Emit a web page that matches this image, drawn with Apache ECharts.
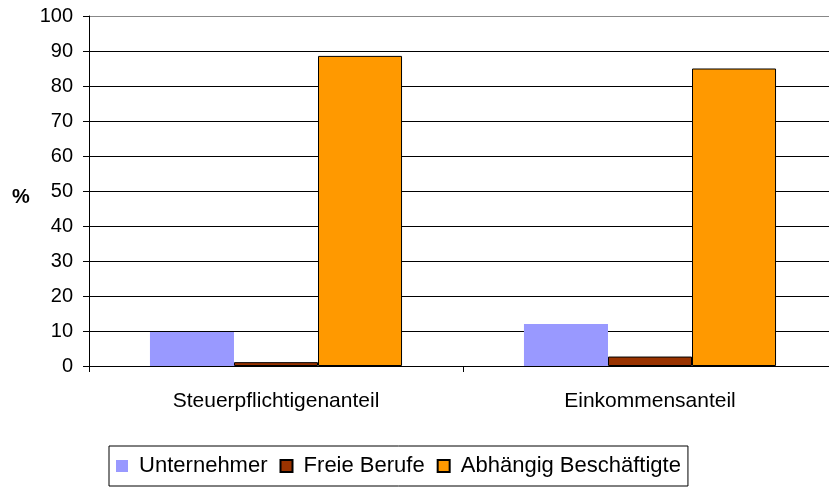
<!DOCTYPE html>
<html>
<head>
<meta charset="utf-8">
<script src="https://cdn.jsdelivr.net/npm/echarts@6/dist/echarts.min.js"></script>
<style>
  html, body { margin: 0; padding: 0; background: #fff; overflow: hidden; }
  /* Plotfläche ragt im Original rechts über den Rand hinaus */
  #chart { width: 850px; height: 489px; }
</style>
</head>
<body>
<div id="chart"></div>
<script>
  // Daten
  const categories = ['Steuerpflichtigenanteil', 'Einkommensanteil'];
  const unternehmer = [9.7, 12.0];
  const freieBerufe = [1.1, 2.7];
  const abhaengig = [88.6, 85.0];
  const seriesNames = ['Unternehmer', 'Freie Berufe', 'Abhängig Beschäftigte'];

  const chart = echarts.init(document.getElementById('chart'));

  // Gitterlinien schwarz, oberste grau
  const gridColors = [];
  for (let i = 0; i < 10; i++) gridColors.push('#000');
  gridColors.push('#888');

  const option = {
    animation: false,
    textStyle: { fontFamily: 'Liberation Sans, Arial, sans-serif', color: '#000' },
    grid: { left: 89, top: 16, width: 748, height: 350 },
    // Achsentitel "%"
    graphic: [{
      type: 'text',
      left: 12,
      top: 187,
      style: { text: '%', fontSize: 20, fontWeight: 'bold', fill: '#000', fontFamily: 'Liberation Sans, Arial, sans-serif' }
    }],
    legend: {
      left: 109,
      top: 446,
      padding: [9, 7],
      icon: 'rect',
      itemWidth: 12,
      itemHeight: 12,
      itemGap: 12,
      borderColor: '#000',
      borderWidth: 1,
      formatter: name => ' ' + name,
      textStyle: { fontSize: 22, color: '#000', fontFamily: 'Liberation Sans, Arial, sans-serif' },
      data: seriesNames
    },
    xAxis: {
      type: 'category',
      data: categories,
      axisLine: { lineStyle: { color: '#000' } },
      axisTick: { show: true, length: 6, lineStyle: { color: '#000' } },
      axisLabel: { fontSize: 21, color: '#000', margin: 25 }
    },
    yAxis: {
      type: 'value',
      min: 0,
      max: 100,
      interval: 10,
      axisLine: { show: true, lineStyle: { color: '#000' } },
      axisTick: { show: true, length: 6, lineStyle: { color: '#000' } },
      axisLabel: { fontSize: 20, color: '#000', margin: 16 },
      splitLine: { show: true, lineStyle: { color: gridColors, width: 1 } }
    },
    series: [
      {
        name: seriesNames[0],
        type: 'bar',
        data: unternehmer,
        barGap: 0,
        barCategoryGap: '32.6%',
        itemStyle: { color: '#9999FF' }
      },
      {
        name: seriesNames[1],
        type: 'bar',
        data: freieBerufe,
        itemStyle: { color: '#993300', borderColor: '#000', borderWidth: 1 }
      },
      {
        name: seriesNames[2],
        type: 'bar',
        data: abhaengig,
        itemStyle: { color: '#FF9900', borderColor: '#000', borderWidth: 1 }
      }
    ]
  };
  chart.setOption(option);
</script>
</body>
</html>
